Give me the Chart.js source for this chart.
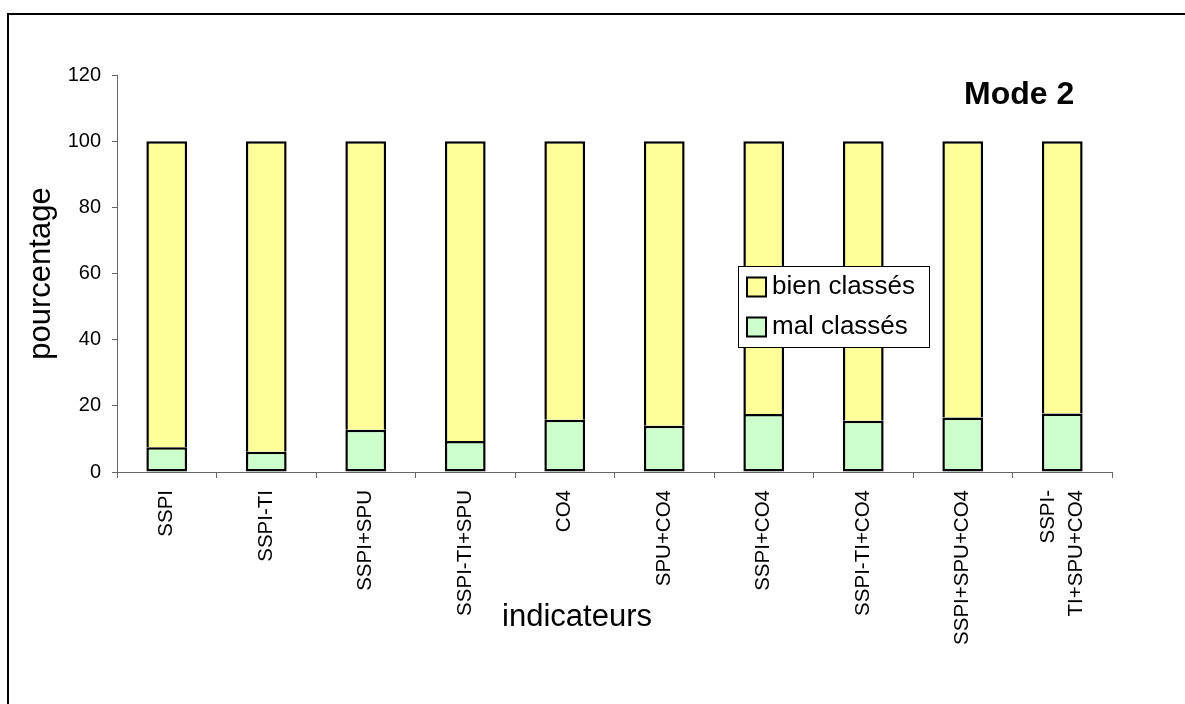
<!DOCTYPE html>
<html>
<head>
<meta charset="utf-8">
<script src="https://cdn.jsdelivr.net/npm/chart.js@4/dist/chart.umd.min.js"></script>
<style>
  html, body { margin: 0; padding: 0; background: #fff; }
  #wrap { width: 1185px; height: 704px; position: relative; }
</style>
</head>
<body>
<div id="wrap"><canvas id="c" width="1185" height="704"></canvas></div>
<script>
// Indicator combinations along the x axis
const categories = ['SSPI', 'SSPI-TI', 'SSPI+SPU', 'SSPI-TI+SPU', 'CO4', 'SPU+CO4',
  'SSPI+CO4', 'SSPI-TI+CO4', 'SSPI+SPU+CO4', ['SSPI-', 'TI+SPU+CO4']];
// Percentage of misclassified / correctly classified cases
const malClasses = [7.5, 6.1, 12.8, 9.4, 15.8, 14.0, 17.5, 15.5, 16.5, 17.7];
const bienClasses = [92.5, 93.9, 87.2, 90.6, 84.2, 86.0, 82.5, 84.5, 83.5, 82.3];
// Y axis tick values
const yTicks = [0, 20, 40, 60, 80, 100, 120];

const FONT = "'Liberation Sans', Arial, Helvetica, sans-serif";
const AXIS_GREY = '#666666';

const decor = {
  id: 'decor',
  beforeDraw(chart) {
    const ctx = chart.ctx;
    ctx.save();
    ctx.fillStyle = '#fff';
    ctx.fillRect(0, 0, chart.width, chart.height);
    ctx.strokeStyle = '#000';
    ctx.lineWidth = 2;
    ctx.strokeRect(8, 14, chart.width + 40, chart.height + 40);
    ctx.restore();
    // centre two-line category labels on their tick
    const xs = chart.scales.x;
    xs.getLabelItems(chart.chartArea).forEach(item => {
      if (Array.isArray(item.label) && !item._centred) {
        item.options.translation[0] -= item.font.lineHeight * (item.label.length - 1) / 2;
        item._centred = true;
      }
    });
  },
  afterDatasetsDraw(chart) {
    const ctx = chart.ctx;
    const ca = chart.chartArea;
    ctx.save();

    // legend box
    const lx = ca.left + 621, ly = ca.top + 191, lw = 191, lh = 81;
    ctx.fillStyle = '#fff';
    ctx.fillRect(lx, ly, lw, lh);
    ctx.strokeStyle = '#000';
    ctx.lineWidth = 1;
    ctx.strokeRect(lx + 0.5, ly + 0.5, lw, lh);
    const order = [1, 0];
    ctx.font = '26px ' + FONT;
    ctx.textBaseline = 'middle';
    ctx.textAlign = 'left';
    order.forEach((di, row) => {
      const ds = chart.data.datasets[di];
      const cy = ly + 21 + row * 40;
      ctx.fillStyle = ds.backgroundColor;
      ctx.fillRect(lx + 9, cy - 9.5, 19, 19);
      ctx.lineWidth = 2;
      ctx.strokeStyle = '#000';
      ctx.strokeRect(lx + 9, cy - 9.5, 19, 19);
      ctx.fillStyle = '#000';
      ctx.fillText(ds.label, lx + 34, cy);
    });

    // panel label
    ctx.font = 'bold 32px ' + FONT;
    ctx.fillStyle = '#000';
    ctx.textBaseline = 'middle';
    ctx.fillText('Mode 2', ca.left + 847, ca.top + 20);

    // x axis title
    ctx.font = '31px ' + FONT;
    ctx.textAlign = 'center';
    ctx.textBaseline = 'alphabetic';
    ctx.fillText('indicateurs', ca.left + 460, ca.bottom + 154);
    ctx.restore();
  }
};

new Chart(document.getElementById('c'), {
  type: 'bar',
  data: {
    labels: categories,
    datasets: [
      { label: 'mal classés', data: malClasses, backgroundColor: '#CCFFCC',
        borderColor: '#000', borderWidth: 2.5, borderSkipped: false,
        barPercentage: 0.41, categoryPercentage: 1 },
      { label: 'bien classés', data: bienClasses, backgroundColor: '#FFFF99',
        borderColor: '#000', borderWidth: 2.5,
        barPercentage: 0.41, categoryPercentage: 1 }
    ]
  },
  options: {
    responsive: false,
    animation: false,
    devicePixelRatio: 1,
    events: [],
    layout: { padding: { left: 0, top: 75, right: 73, bottom: 0 } },
    plugins: { legend: { display: false }, tooltip: { enabled: false } },
    scales: {
      x: {
        stacked: true,
        grid: { display: true, drawOnChartArea: false, tickLength: 6, color: AXIS_GREY, offset: true },
        border: { color: AXIS_GREY, width: 1 },
        ticks: { maxRotation: 90, minRotation: 90, autoSkip: false, padding: 12, color: '#000',
          font: { family: FONT, size: 20.5, lineHeight: 1.35 } },
        afterFit(s) { s.height = 232; }
      },
      y: {
        stacked: true,
        min: yTicks[0],
        max: yTicks[yTicks.length - 1],
        afterBuildTicks(s) { s.ticks = yTicks.map(v => ({ value: v })); },
        grid: { display: true, drawOnChartArea: false, tickLength: 5, color: AXIS_GREY },
        border: { color: AXIS_GREY, width: 1 },
        ticks: { padding: 11, color: '#000', font: { family: FONT, size: 20 } },
        title: { display: true, text: 'pourcentage', color: '#000',
          font: { family: FONT, size: 31 }, padding: { top: 23, bottom: 0 } },
        afterFit(s) { s.width = 117; }
      }
    }
  },
  plugins: [decor]
});
</script>
</body>
</html>
